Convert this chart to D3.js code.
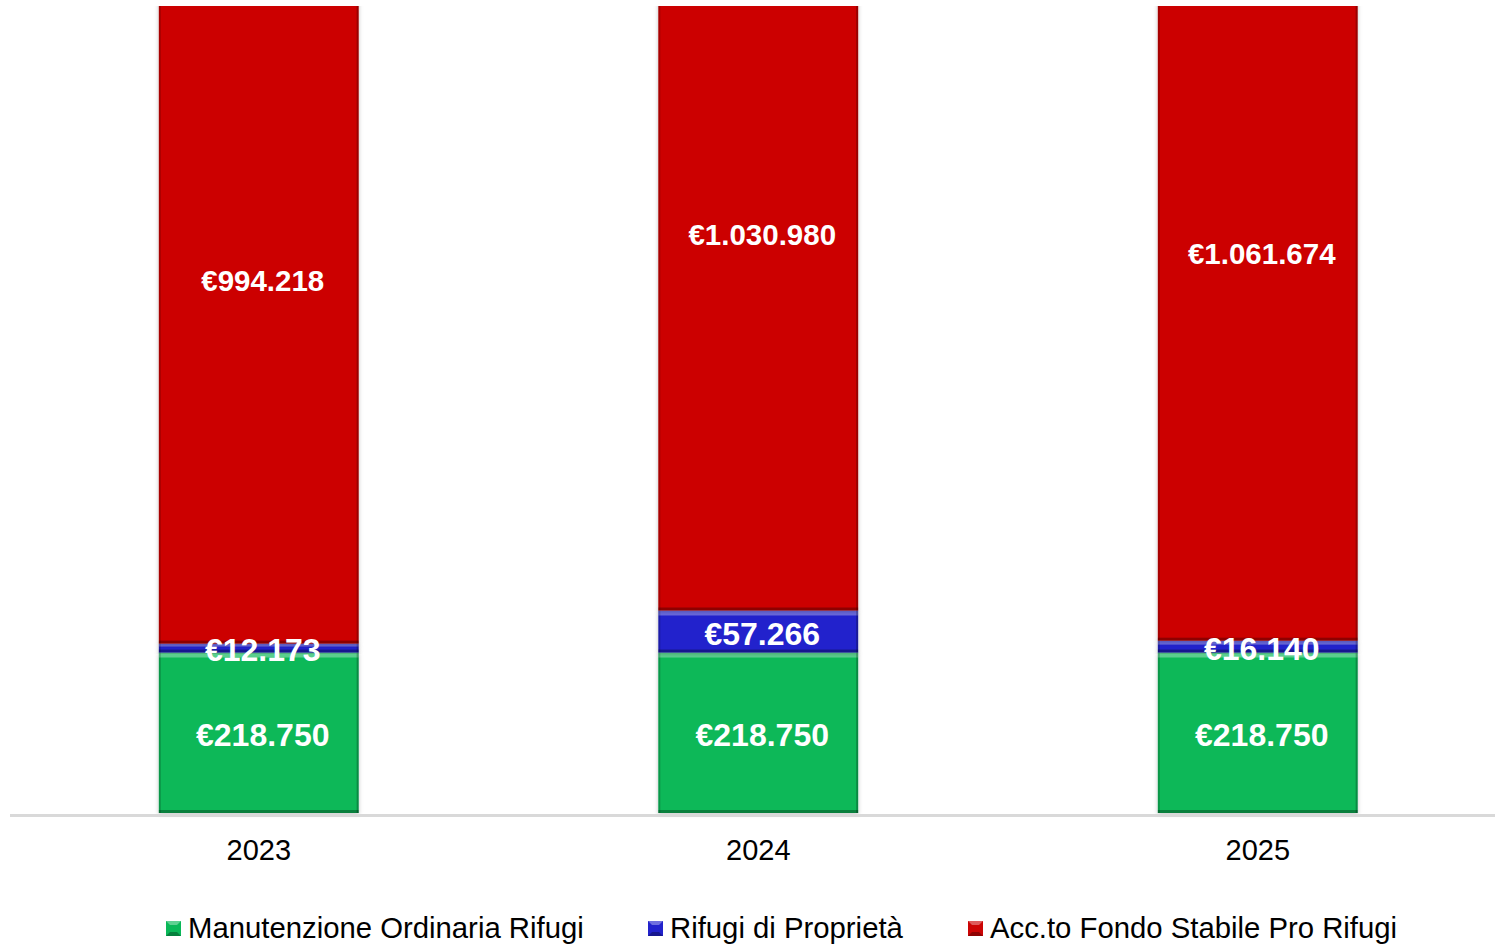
<!DOCTYPE html>
<html>
<head>
<meta charset="utf-8">
<script src="https://cdn.jsdelivr.net/npm/d3@7"></script>
<style>
  html, body { margin: 0; padding: 0; background: #fff; }
  svg { display: block; font-family: "Liberation Sans", Arial, sans-serif; }
</style>
</head>
<body>
<div id="chart"></div>
<script>
// Chart data
const years = ['2023', '2024', '2025'];
const seriesNames = ['Manutenzione Ordinaria Rifugi', 'Rifugi di Proprietà', 'Acc.to Fondo Stabile Pro Rifugi'];
const manutenzione = [218750, 218750, 218750];
const rifugiProprieta = [12173, 57266, 16140];
const fondoStabile = [994218, 1030980, 1061674];
const yMax = 1100000;

const colors = ['#0ab858', '#2222cc', '#cc0505'];

function euro(v) {
    return '€' + d3.format(',')(v).replace(/,/g, '.');
}

function drawChart() {
    const W = 1495, H = 947;
    const plot = { left: 9, right: 1507.5, top: 6, bottom: 813 };

    const svg = d3.select('#chart')
        .append('svg')
        .attr('width', W)
        .attr('height', H);

    const defs = svg.append('defs');
    defs.append('clipPath').attr('id', 'plot-clip')
        .append('rect')
        .attr('x', 0).attr('y', plot.top)
        .attr('width', W).attr('height', plot.bottom - plot.top + 10);

    const shadow = defs.append('filter').attr('id', 'shadow')
        .attr('x', '-10%').attr('y', '-10%').attr('width', '120%').attr('height', '120%');
    shadow.append('feDropShadow')
        .attr('dx', 0).attr('dy', 1).attr('stdDeviation', 2)
        .attr('flood-color', '#000').attr('flood-opacity', 0.25);

    const x = d3.scaleBand()
        .domain(years)
        .range([plot.left, plot.right])
        .paddingInner(0.6)
        .paddingOuter(0.3);

    const y = d3.scaleLinear()
        .domain([0, yMax])
        .range([plot.bottom, plot.top]);

    const rows = years.map((yr, i) => ({
        year: yr,
        values: [manutenzione[i], rifugiProprieta[i], fondoStabile[i]]
    }));

    const stack = d3.stack().keys([0, 1, 2]).value((d, k) => d.values[k]);
    const layers = stack(rows);

    const bars = svg.append('g').attr('clip-path', 'url(#plot-clip)');

    layers.forEach((layer, k) => {
        layer.forEach(seg => {
            const x0 = x(seg.data.year);
            const bw = x.bandwidth();
            const yTop = y(seg[1]);
            const yBot = y(seg[0]);
            const h = yBot - yTop;
            const g = bars.append('g');

            g.append('rect')
                .attr('x', x0).attr('y', yTop)
                .attr('width', bw).attr('height', h)
                .attr('fill', colors[k])
                .attr('filter', 'url(#shadow)');

            // bevel-like edges
            const e = Math.min(5, h / 3);
            g.append('rect')
                .attr('x', x0).attr('y', yTop)
                .attr('width', bw).attr('height', e)
                .attr('fill', '#fff').attr('opacity', 0.32);
            g.append('rect')
                .attr('x', x0).attr('y', yBot - Math.min(3, h / 3))
                .attr('width', bw).attr('height', Math.min(3, h / 3))
                .attr('fill', '#000').attr('opacity', 0.3);
            g.append('rect')
                .attr('x', x0).attr('y', yTop)
                .attr('width', 2).attr('height', h)
                .attr('fill', '#000').attr('opacity', 0.18);
            g.append('rect')
                .attr('x', x0 + bw - 2).attr('y', yTop)
                .attr('width', 2).attr('height', h)
                .attr('fill', '#000').attr('opacity', 0.25);
        });
    });

    // Axis line
    svg.append('line')
        .attr('x1', 10).attr('x2', W)
        .attr('y1', 815.5).attr('y2', 815.5)
        .attr('stroke', '#d9d9d9')
        .attr('stroke-width', 3);

    // Category labels
    const xAxis = svg.append('g')
        .attr('transform', `translate(0,${plot.bottom})`)
        .call(d3.axisBottom(x).tickSize(0).tickPadding(0));
    xAxis.select('.domain').remove();
    xAxis.selectAll('text')
        .attr('y', 47)
        .attr('dy', 0)
        .style('font-size', '29px')
        .style('fill', '#000');

    // Data labels
    layers.forEach((layer, k) => {
        layer.forEach(seg => {
            const cx = x(seg.data.year) + x.bandwidth() / 2 + 4;
            const cy = (y(seg[0]) + y(seg[1])) / 2 + 2;
            svg.append('text')
                .attr('x', cx)
                .attr('y', cy)
                .attr('text-anchor', 'middle')
                .attr('dominant-baseline', 'central')
                .style('font-size', k === 2 ? '29.5px' : '32px')
                .style('font-weight', 'bold')
                .style('fill', '#fff')
                .text(euro(seg.data.values[k]));
        });
    });

    // Legend
    const legendX = [166, 648, 968];
    const legend = svg.append('g');
    seriesNames.forEach((name, k) => {
        const lg = legend.append('g').attr('transform', `translate(${legendX[k]},921)`);
        lg.append('rect')
            .attr('width', 15).attr('height', 15)
            .attr('fill', colors[k]);
        lg.append('path')
            .attr('d', 'M0,0 L15,0 L11,4 L4,4 Z')
            .attr('fill', '#fff').attr('opacity', 0.35);
        lg.append('path')
            .attr('d', 'M0,15 L15,15 L11,11 L4,11 Z')
            .attr('fill', '#000').attr('opacity', 0.3);
        lg.append('text')
            .attr('x', 22)
            .attr('y', 17)
            .style('font-size', '29.3px')
            .style('fill', '#000')
            .text(name);
    });
}

if (document.readyState === 'loading') {
    document.addEventListener('DOMContentLoaded', drawChart);
} else {
    drawChart();
}
</script>
</body>
</html>
